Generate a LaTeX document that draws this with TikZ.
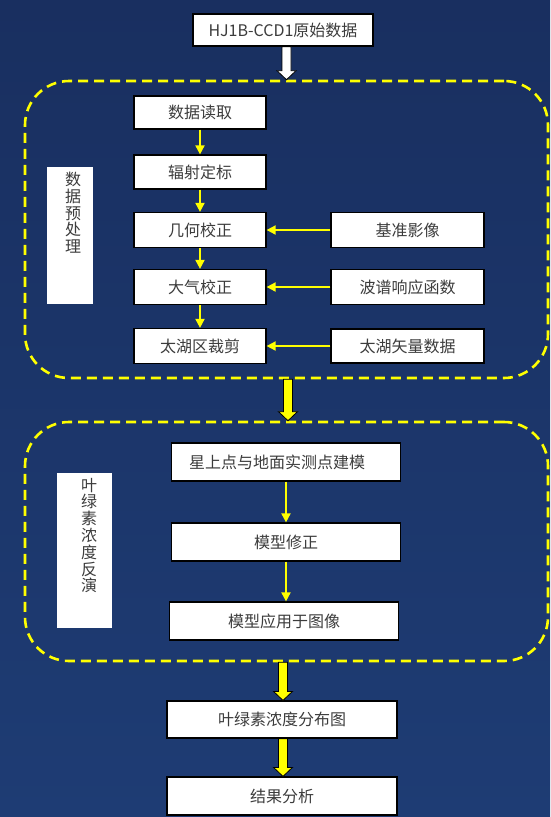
\documentclass[tikz,border=0pt]{standalone}
\usepackage{fontspec}
\setmainfont{Noto Sans CJK SC}
\usetikzlibrary{arrows.meta,calc}

\definecolor{bgtop}{RGB}{25,47,96}
\definecolor{bgbot}{RGB}{30,60,116}
\definecolor{txtgray}{RGB}{60,60,60}
\definecolor{lineyellow}{RGB}{255,255,0}

\tikzset{
  stepbox/.style={draw=black, line width=1.2pt, fill=white, text=txtgray,
    inner sep=0pt, font=\fontsize{16}{18}\selectfont},
  sidebox/.style={fill=white, inner sep=0pt},
  sidetext/.style={text=txtgray, align=center, inner sep=0pt,
    font=\fontsize{16}{16.8}\selectfont},
  groupbox/.style={draw=lineyellow, line width=2.6pt, dash pattern=on 10pt off 6pt,
    rounded corners=44pt, inner sep=0pt},
  thinarrow/.style={draw=lineyellow, line width=1.8pt,
    -{Triangle[length=9pt,width=9pt]}},
  fatarrow/.style={draw=black, line width=0.8pt, fill=#1,
    to path={let \p1=(\tikztostart), \p2=(\tikztotarget) in
      (\x2-4.5pt,\y1) -- (\x2-4.5pt,\y2+9pt) -- (\x2-9.5pt,\y2+9pt) -- (\x2,\y2)
      -- (\x2+9.5pt,\y2+9pt) -- (\x2+4.5pt,\y2+9pt) -- (\x2+4.5pt,\y1) -- cycle}},
  fatarrow/.default=lineyellow
}

\begin{document}
\begin{tikzpicture}[x=1pt, y=-1pt]
  % background
  \clip (0,0) rectangle (550,817);
  \shade[top color=bgtop, bottom color=bgbot] (0,0) rectangle (550,817);

  % source data
  \node[stepbox, minimum width=180pt, minimum height=32pt] (raw) at (283,30) {HJ1B-CCD1原始数据};

  % group 1: preprocessing
  \node[groupbox, minimum width=523pt, minimum height=297pt] (pre) at (286.5,229.5) {};
  \node[sidebox, minimum width=46pt, minimum height=137pt] (prebox) at (70,235.5) {};
  \node[sidetext, anchor=north] (pretext) at ([xshift=3pt, yshift=-5pt]prebox.north) {数\\据\\预\\处\\理};

  \node[stepbox, minimum width=132pt, minimum height=33pt] (read) at (200,112.5) {数据读取};
  \node[stepbox, minimum width=132pt, minimum height=34pt] (calib) at (200,172) {辐射定标};
  \node[stepbox, minimum width=132pt, minimum height=35pt] (geo) at (200,230) {几何校正};
  \node[stepbox, minimum width=132pt, minimum height=35pt] (atm) at (200,287) {大气校正};
  \node[stepbox, minimum width=132pt, minimum height=35pt] (clip) at (200,346) {太湖区裁剪};

  \node[stepbox, minimum width=153pt, minimum height=35pt] (refimg) at (407.5,230) {基准影像};
  \node[stepbox, minimum width=153pt, minimum height=35pt] (srf) at (407.5,287) {波谱响应函数};
  \node[stepbox, minimum width=153pt, minimum height=34pt] (vector) at (407.5,346) {太湖矢量数据};

  % group 2: inversion
  \node[groupbox, minimum width=523pt, minimum height=239pt] (inv) at (286.5,541.5) {};
  \node[sidebox, minimum width=55pt, minimum height=155pt] (invbox) at (84.5,550.5) {};
  \node[sidetext, anchor=north] (invtext) at ([xshift=4.5pt, yshift=-5pt]invbox.north) {叶\\绿\\素\\浓\\度\\反\\演};

  \node[stepbox, minimum width=229pt, minimum height=38pt] (model) at (286,462) {\hspace*{-18pt}星上点与地面实测点建模};
  \node[stepbox, minimum width=229pt, minimum height=38pt] (fix) at (286,542) {模型修正};
  \node[stepbox, minimum width=229pt, minimum height=38pt] (apply) at (284,621) {模型应用于图像};

  % results
  \node[stepbox, minimum width=230pt, minimum height=37pt] (map) at (282,719.5) {叶绿素浓度分布图};
  \node[stepbox, minimum width=230pt, minimum height=38pt] (result) at (282,796) {结果分析};

  % thin arrows
  \draw[thinarrow] (read) -- (calib);
  \draw[thinarrow] (calib) -- (geo);
  \draw[thinarrow] (geo) -- (atm);
  \draw[thinarrow] (atm) -- (clip);
  \draw[thinarrow] (refimg) -- (geo);
  \draw[thinarrow] (srf) -- (atm);
  \draw[thinarrow] (vector) -- (clip);
  \draw[thinarrow] (model) -- (fix);
  \draw[thinarrow] (fix.south) -- (fix.south |- apply.north);

  % fat arrows
  \path[fatarrow=white] (raw.south) to (pre.north);
  \path[fatarrow] (pre.south) to ([xshift=1.5pt]inv.north);
  \path[fatarrow] (inv.south) to ([xshift=1pt]map.north);
  \path[fatarrow] (map.south) to ([xshift=1pt]result.north);
\end{tikzpicture}
\end{document}
